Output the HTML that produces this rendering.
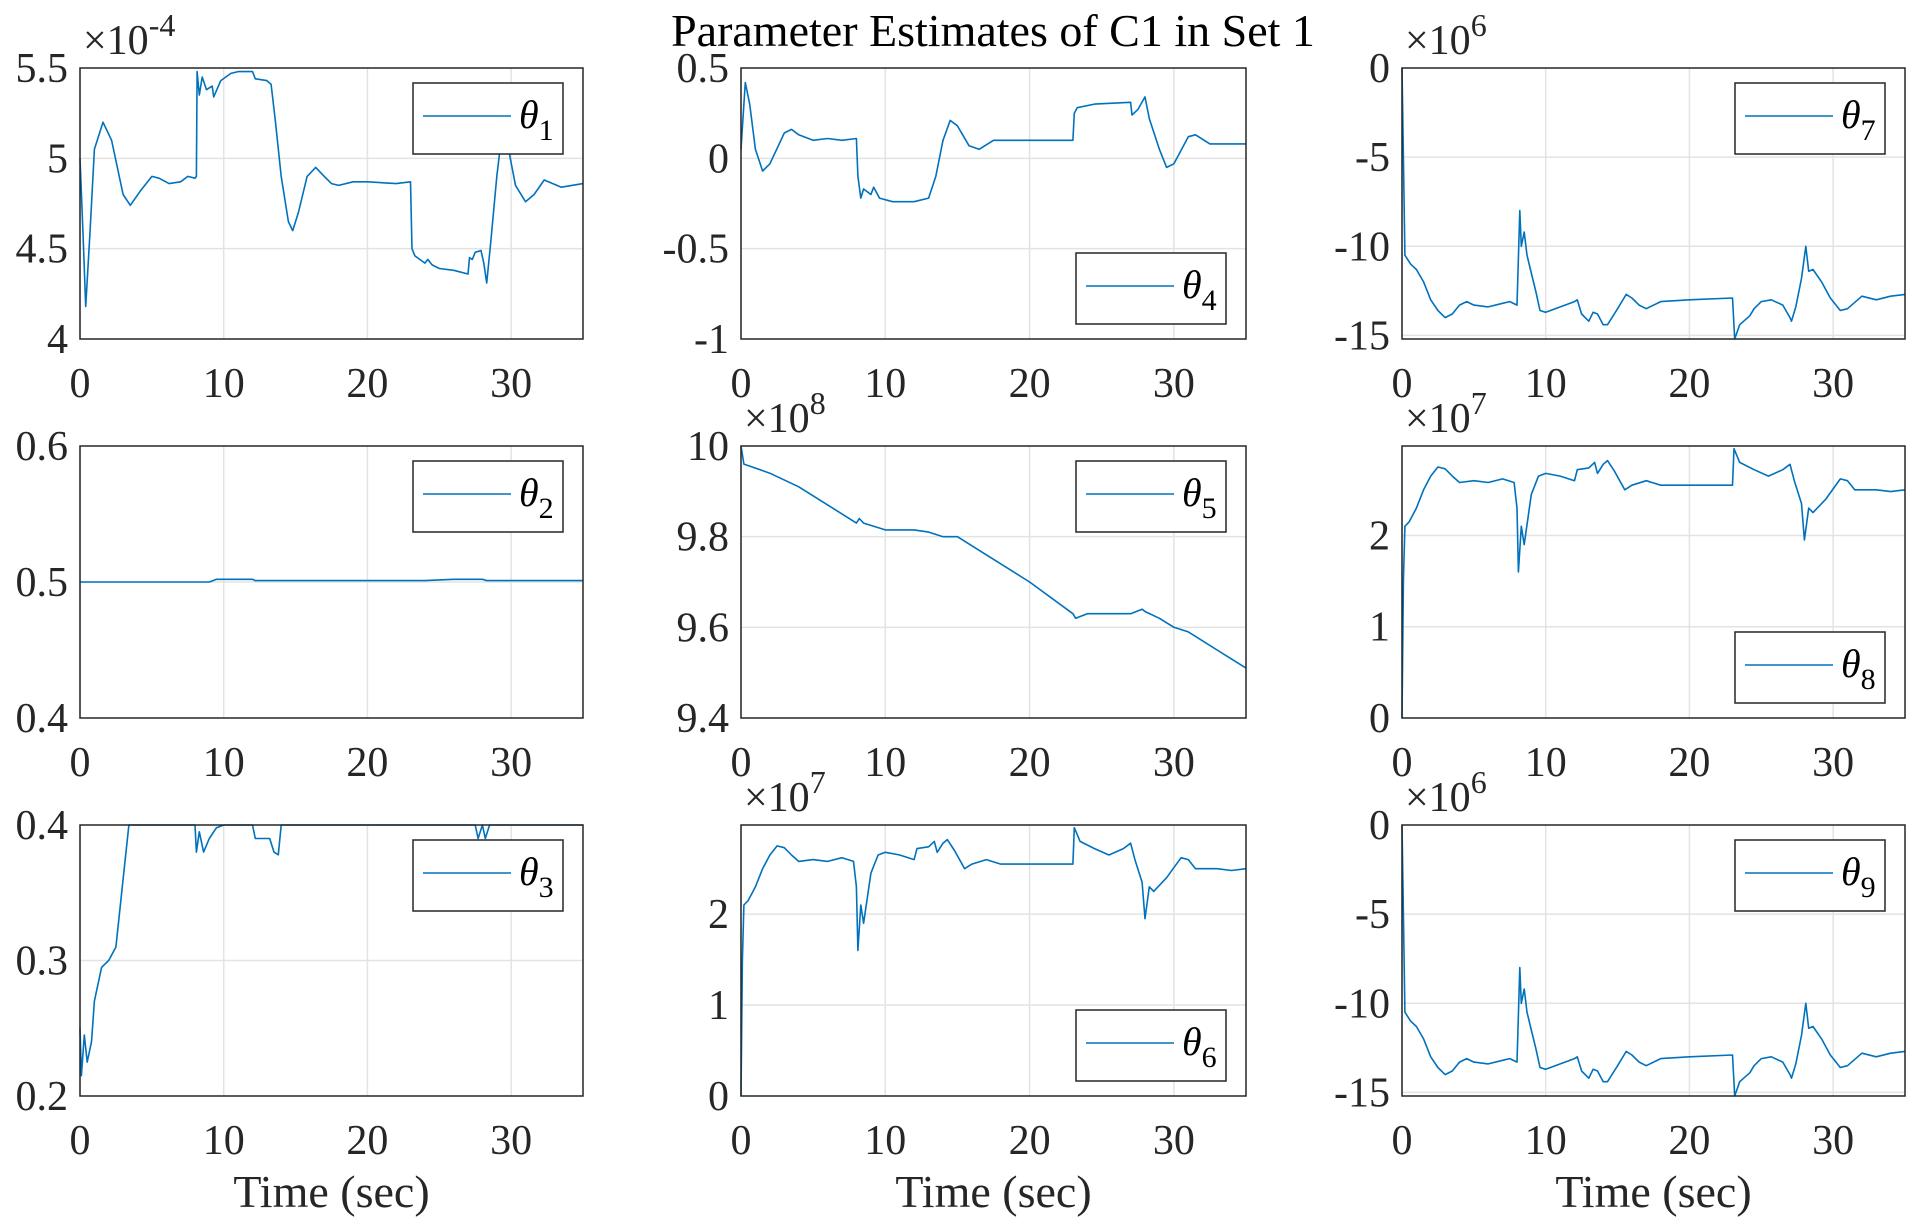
<!DOCTYPE html>
<html><head><meta charset="utf-8"><style>
html,body{margin:0;padding:0;background:#fff;}
svg{display:block;font-family:"Liberation Serif","DejaVu Serif",serif;}
</style></head><body>
<svg id="fig" width="1929" height="1232" viewBox="0 0 1929 1232" xmlns="http://www.w3.org/2000/svg">
<rect width="1929" height="1232" fill="#fff"/>
<text x="993" y="46" font-size="46" text-anchor="middle" fill="#000">Parameter Estimates of C1 in Set 1</text>
</svg>
<script>
const xTicks=[0,10,20,30];
const th1=[[0,5.0],[0.2,4.6],[0.4,4.18],[0.7,4.6],[1,5.05],[1.6,5.2],[2.2,5.1],[3,4.8],[3.5,4.74],[4.2,4.82],[5,4.9],[5.5,4.89],[6.2,4.86],[7,4.87],[7.5,4.9],[8,4.89],[8.1,4.9],[8.15,5.48],[8.3,5.35],[8.5,5.45],[8.8,5.38],[9.2,5.4],[9.3,5.34],[9.8,5.43],[10.5,5.47],[11,5.48],[12,5.48],[12.2,5.44],[13,5.43],[13.3,5.41],[13.6,5.2],[14,4.9],[14.5,4.65],[14.8,4.6],[15.2,4.7],[15.8,4.9],[16.4,4.95],[17,4.9],[17.5,4.86],[18,4.85],[19,4.87],[20,4.87],[22,4.86],[23,4.87],[23.1,4.5],[23.3,4.46],[24,4.42],[24.2,4.44],[24.5,4.41],[25,4.39],[26,4.38],[27,4.36],[27.1,4.45],[27.3,4.44],[27.5,4.48],[27.9,4.49],[28.1,4.42],[28.3,4.31],[28.6,4.55],[29,4.9],[29.3,5.1],[29.7,5.1],[30.3,4.85],[31,4.76],[31.6,4.8],[32.3,4.88],[33.5,4.84],[35,4.86]];
const th2=[[0,0.5],[9,0.5],[9.5,0.502],[12,0.502],[12.2,0.501],[24,0.501],[26,0.502],[28,0.502],[28.3,0.501],[35,0.501]];
const th3=[[0,0.25],[0.1,0.215],[0.3,0.245],[0.5,0.225],[0.8,0.24],[1,0.27],[1.5,0.295],[2,0.3],[2.5,0.31],[3,0.36],[3.4,0.4],[8,0.4],[8.1,0.38],[8.3,0.395],[8.6,0.38],[9,0.39],[9.5,0.398],[10,0.4],[12,0.4],[12.2,0.39],[13.2,0.39],[13.5,0.38],[13.8,0.378],[14,0.4],[27.5,0.4],[27.7,0.39],[28,0.4],[28.2,0.39],[28.5,0.4],[35,0.4]];
const th4=[[0,0.05],[0.3,0.42],[0.6,0.3],[1,0.05],[1.5,-0.07],[2,-0.03],[3,0.14],[3.5,0.16],[4,0.13],[5,0.1],[6,0.11],[7,0.1],[8,0.11],[8.1,-0.1],[8.3,-0.22],[8.5,-0.17],[9,-0.2],[9.2,-0.16],[9.6,-0.22],[10.5,-0.24],[12,-0.24],[13,-0.22],[13.5,-0.1],[14,0.1],[14.5,0.21],[15,0.18],[15.8,0.07],[16.5,0.05],[17.5,0.1],[20,0.1],[23,0.1],[23.1,0.25],[23.3,0.28],[24.5,0.3],[27,0.31],[27.1,0.24],[27.5,0.27],[28,0.34],[28.3,0.22],[29,0.05],[29.5,-0.05],[30,-0.03],[31,0.12],[31.5,0.13],[32.5,0.08],[34,0.08],[35,0.08]];
const th5=[[0,10],[0.2,9.96],[2,9.94],[4,9.91],[6,9.87],[8,9.83],[8.2,9.84],[8.5,9.83],[9.5,9.82],[10,9.815],[12,9.815],[13,9.81],[13.5,9.805],[14,9.8],[15,9.8],[17,9.76],[20,9.7],[23,9.63],[23.2,9.62],[24,9.63],[26,9.63],[27,9.63],[27.8,9.64],[28,9.635],[29,9.62],[30,9.6],[31,9.59],[32,9.57],[33,9.55],[34,9.53],[35,9.51]];
const th6=[[0,0],[0.1,1.5],[0.2,2.1],[0.5,2.15],[1,2.3],[1.5,2.5],[2,2.65],[2.5,2.75],[3,2.73],[3.5,2.65],[4,2.58],[5,2.6],[6,2.58],[7,2.62],[7.8,2.58],[8,2.3],[8.1,1.6],[8.3,2.1],[8.5,1.9],[9,2.45],[9.5,2.65],[10,2.68],[11,2.65],[12,2.6],[12.2,2.72],[13,2.74],[13.4,2.8],[13.6,2.68],[14,2.78],[14.3,2.82],[14.8,2.7],[15.5,2.5],[16,2.55],[17,2.6],[18,2.55],[20,2.55],[22,2.55],[23,2.55],[23.1,2.95],[23.5,2.8],[24.5,2.72],[25.5,2.65],[26.5,2.72],[27,2.78],[27.3,2.6],[27.8,2.35],[28,1.95],[28.3,2.3],[28.6,2.25],[29.5,2.4],[30.5,2.62],[31,2.6],[31.5,2.5],[33,2.5],[34,2.48],[35,2.5]];
const th7=[[0,0],[0.1,-5],[0.2,-10.5],[0.6,-11],[1,-11.3],[1.5,-12],[2,-13],[2.5,-13.6],[3,-14],[3.5,-13.8],[4,-13.3],[4.5,-13.1],[5,-13.3],[6,-13.4],[7,-13.2],[7.5,-13.1],[8,-13.3],[8.2,-8],[8.3,-10],[8.5,-9.2],[8.7,-10.5],[9,-11.5],[9.3,-12.5],[9.6,-13.6],[10,-13.7],[12,-13.1],[12.2,-13],[12.5,-13.8],[13,-14.2],[13.3,-13.7],[13.6,-13.8],[14,-14.4],[14.3,-14.4],[15,-13.5],[15.6,-12.7],[16,-12.9],[16.5,-13.3],[17,-13.5],[18,-13.1],[20,-13],[23,-12.9],[23.15,-15.2],[23.5,-14.4],[24.2,-13.9],[24.5,-13.5],[25,-13.1],[25.7,-13],[26.5,-13.3],[27,-14],[27.1,-14.2],[27.4,-13.4],[27.8,-11.8],[28.1,-10],[28.3,-11.4],[28.6,-11.3],[29.2,-12],[29.8,-12.9],[30.5,-13.6],[31,-13.5],[32,-12.8],[33,-13],[34,-12.8],[35,-12.7]];
const th8=th6, th9=th7;
const ticks1=[4,4.5,5,5.5], ticks2=[0.4,0.5,0.6], ticks3=[0.2,0.3,0.4], ticks4=[-1,-0.5,0,0.5], ticks5=[9.4,9.6,9.8,10], ticks6=[0,1,2], ticks7=[-15,-10,-5,0];

const NS="http://www.w3.org/2000/svg";
const svg=document.getElementById('fig');
function mk(tag,attrs,parent){const e=document.createElementNS(NS,tag);for(const k in attrs)e.setAttribute(k,attrs[k]);(parent||svg).appendChild(e);return e;}
const cols=[[80,583],[741,1246],[1402,1905]];
const rows=[[68,339],[446,718],[825,1096]];
const panels=[
 {n:1,c:0,r:0,d:th1,t:ticks1,lo:4,hi:5.5,exp:"-4",leg:"top"},
 {n:2,c:0,r:1,d:th2,t:ticks2,lo:0.4,hi:0.6,exp:null,leg:"top"},
 {n:3,c:0,r:2,d:th3,t:ticks3,lo:0.2,hi:0.4,exp:null,leg:"top"},
 {n:4,c:1,r:0,d:th4,t:ticks4,lo:-1,hi:0.5,exp:null,leg:"bottom"},
 {n:5,c:1,r:1,d:th5,t:ticks5,lo:9.4,hi:10,exp:"8",leg:"top"},
 {n:6,c:1,r:2,d:th6,t:ticks6,lo:0,hi:2.98,exp:"7",leg:"bottom"},
 {n:7,c:2,r:0,d:th7,t:ticks7,lo:-15.2,hi:0,exp:"6",leg:"top"},
 {n:8,c:2,r:1,d:th8,t:ticks6,lo:0,hi:2.98,exp:"7",leg:"bottom"},
 {n:9,c:2,r:2,d:th9,t:ticks7,lo:-15.2,hi:0,exp:"6",leg:"top"}];
panels.forEach(p=>{
 const [x0,x1]=cols[p.c],[y0,y1]=rows[p.r];
 const X=v=>x0+(x1-x0)*v/35, Y=v=>y1-(y1-y0)*(v-p.lo)/(p.hi-p.lo);
 const g=mk('g',{});
 
 
 xTicks.forEach(v=>{
  const l=mk('line',{x1:X(v),x2:X(v),y1:y0,y2:y1,stroke:'#e3e3e3','stroke-width':1.5},g);
  
  const t=mk('text',{x:X(v),y:y1+58,'font-size':42,'text-anchor':'middle',fill:'#262626'},g);
  
  t.textContent=v;
 });
 p.t.forEach(v=>{
  const y=Y(v);
  if(y>y0+2&&y<y1-2){const l=mk('line',{x1:x0,x2:x1,y1:y,y2:y,stroke:'#e3e3e3','stroke-width':1.5},g);
  }
  const t=mk('text',{x:x0-12,y:y+14,'font-size':42,'text-anchor':'end',fill:'#262626'},g);
  
  t.textContent=String(v);
 });
 const pts=p.d.map(q=>X(q[0]).toFixed(1)+','+Y(q[1]).toFixed(1)).join(' ');
 const pl=mk('polyline',{points:pts,fill:'none',stroke:'#0072BD','stroke-width':1.6,'stroke-linejoin':'round'},g);
 
 const fr=mk('rect',{x:x0,y:y0,width:x1-x0,height:y1-y0,fill:'none',stroke:'#262626','stroke-width':1.5},g);
 
 if(p.exp){
  const t=mk('text',{x:x0+3,y:y0-14,'font-size':42,fill:'#262626'},g);
  
  t.innerHTML='×10<tspan dy="-18" font-size="32">'+p.exp+'</tspan>';
 }
 const lw=150,lh=71,lx=x1-20-lw,ly=p.leg==='top'?y0+15:y1-15-lh;
 const lg=mk('g',{},g);
 
 mk('rect',{x:lx,y:ly,width:lw,height:lh,fill:'#fff',stroke:'#262626','stroke-width':1.5},lg);
 mk('line',{x1:lx+10,x2:lx+98,y1:ly+33,y2:ly+33,stroke:'#0072BD','stroke-width':1.6},lg);
 const lt=mk('text',{x:lx+106,y:ly+45,'font-size':40,'font-style':'italic',fill:'#000'},lg);
 lt.innerHTML='θ<tspan dy="12" font-size="30" font-style="normal">'+p.n+'</tspan>';
});
[0,1,2].forEach(c=>{
 const t=mk('text',{x:(cols[c][0]+cols[c][1])/2,y:1207,'font-size':46,'text-anchor':'middle',fill:'#262626'});
 
 t.textContent='Time (sec)';
});
</script>
</body></html>
